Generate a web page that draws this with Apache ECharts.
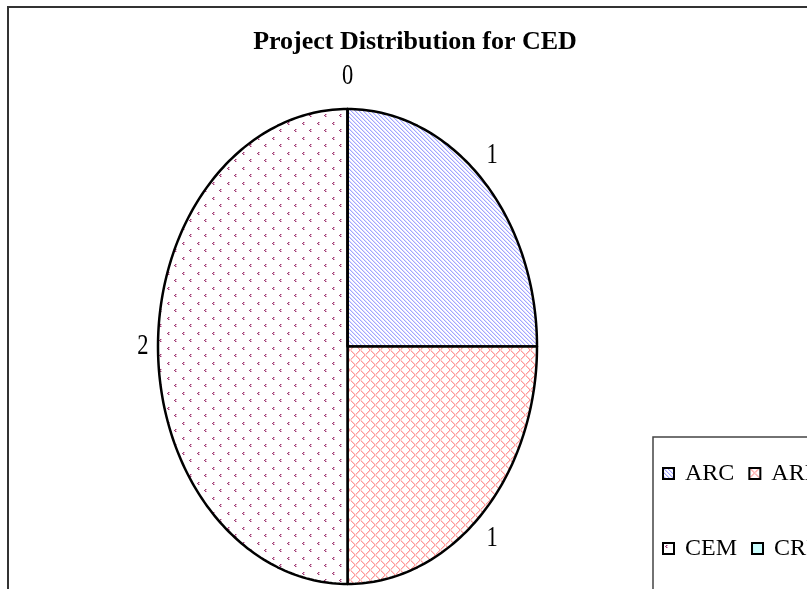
<!DOCTYPE html>
<html>
<head>
<meta charset="utf-8">
<script src="https://cdn.jsdelivr.net/npm/echarts@6/dist/echarts.min.js"></script>
<style>
  html, body { margin: 0; padding: 0; background: #fff; }
  #chart { width: 807px; height: 589px; }
</style>
</head>
<body>
<div id="chart"></div>
<script>
// data
var categories = ['ARC', 'ARE', 'CEM', 'CRP'];
var projectCounts = [1, 1, 2, 0];
var chartTitle = 'Project Distribution for CED';

// excel-like fill patterns, one small tile per category
function makeTile(w, h, draw) {
    var c = document.createElement('canvas');
    c.width = w; c.height = h;
    var ctx = c.getContext('2d');
    ctx.fillStyle = '#fff';
    ctx.fillRect(0, 0, w, h);
    draw(ctx);
    return { image: c, repeat: 'repeat' };
}

var fills = [
    // blue diagonal stripes
    makeTile(4, 4, function (ctx) {
        ctx.fillStyle = '#a3a5ff';
        for (var i = 0; i < 4; i++) ctx.fillRect(i, i, 1, 1);
        ctx.fillStyle = '#dcdeff';
        for (var j = 0; j < 4; j++) ctx.fillRect((j + 1) % 4, j, 1, 1);
    }),
    // red cross hatch
    makeTile(10, 10, function (ctx) {
        ctx.fillStyle = '#ff9a9a';
        for (var i = 0; i < 10; i++) {
            ctx.fillRect(i, i, 1, 1);
            ctx.fillRect(9 - i, i, 1, 1);
        }
        ctx.fillStyle = '#ffd0d0';
        for (var k = 0; k < 10; k++) {
            ctx.fillRect((k + 1) % 10, k, 1, 1);
            ctx.fillRect((10 - k) % 10, k, 1, 1);
        }
    }),
    // plum chevron dots
    makeTile(15, 15, function (ctx) {
        function mark(x, y) {
            ctx.fillStyle = '#d9a0c0';
            ctx.fillRect(x + 2, y, 1, 1);
            ctx.fillRect(x + 2, y + 2, 1, 1);
            ctx.fillRect(x + 1, y + 1, 1, 1);
            ctx.fillStyle = '#9c3d72';
            ctx.fillRect(x + 1, y, 1, 1);
            ctx.fillRect(x, y + 1, 1, 1);
            ctx.fillRect(x + 1, y + 2, 1, 1);
        }
        mark(2, 2);
        mark(9, 9);
    }),
    // plain light cyan
    makeTile(2, 2, function (ctx) {
        ctx.fillStyle = '#ccffff';
        ctx.fillRect(0, 0, 2, 2);
    })
];

// cumulative fractions so every slice knows where it starts and ends
var total = projectCounts.reduce(function (a, b) { return a + b; }, 0);
var acc = 0;
var sliceData = projectCounts.map(function (v) {
    var start = acc / total;
    acc += v;
    return [start, acc / total, v];
});

function renderSlice(params, api) {
    var a0 = api.value(0) * 2 * Math.PI;
    var a1 = api.value(1) * 2 * Math.PI;
    var pts = [api.coord([0, 0])];
    var steps = Math.max(2, Math.ceil((a1 - a0) / 0.02));
    for (var i = 0; i <= steps; i++) {
        var t = a0 + (a1 - a0) * i / steps;
        pts.push(api.coord([Math.sin(t), Math.cos(t)]));
    }
    var mid = (a0 + a1) / 2;
    var lp = api.coord([Math.sin(mid) * 1.08, Math.cos(mid) * 1.14]);
    return {
        type: 'group',
        children: [{
            type: 'polygon',
            shape: { points: pts },
            style: { fill: fills[params.seriesIndex], stroke: '#000', lineWidth: 2.5, lineJoin: 'round' }
        }, {
            type: 'text',
            x: lp[0],
            y: lp[1],
            scaleX: 0.75,
            z2: 10,
            style: {
                text: String(api.value(2)),
                fontSize: 30,
                fontFamily: 'Liberation Serif',
                fill: '#000',
                align: 'center',
                verticalAlign: 'middle'
            }
        }]
    };
}

var chart = echarts.init(document.getElementById('chart'));
chart.setOption({
    animation: false,
    backgroundColor: '#fff',
    title: {
        text: chartTitle,
        left: 415,
        top: 29,
        padding: 0,
        textAlign: 'center',
        textStyle: { fontFamily: 'Liberation Serif', fontWeight: 'bold', fontSize: 26, color: '#000' }
    },
    grid: { left: 158, top: 109, width: 379, height: 475 },
    xAxis: { type: 'value', min: -1, max: 1, show: false },
    yAxis: { type: 'value', min: -1, max: 1, show: false },
    legend: {
        left: 653,
        top: 437,
        width: 160,
        padding: [6, 9, 30, 9],
        itemGap: 14,
        itemWidth: 11,
        itemHeight: 11,
        borderColor: '#444',
        borderWidth: 1.5,
        selectedMode: false,
        textStyle: { fontFamily: 'Liberation Serif', fontSize: 24, color: '#000', lineHeight: 61, padding: [0, 0, 0, 6] },
        data: categories.map(function (c, i) {
            return { name: c, icon: 'rect', itemStyle: { color: fills[i], borderColor: '#000', borderWidth: 2 } };
        })
    },
    graphic: [{
        type: 'rect',
        shape: { x: 8, y: 7, width: 900, height: 700 },
        style: { fill: 'none', stroke: '#333', lineWidth: 2 },
        silent: true
    }],
    series: categories.map(function (c, i) {
        return {
            name: c,
            type: 'custom',
            clip: false,
            itemStyle: { color: fills[i] },
            renderItem: renderSlice,
            data: [sliceData[i]]
        };
    })
});
</script>
</body>
</html>
